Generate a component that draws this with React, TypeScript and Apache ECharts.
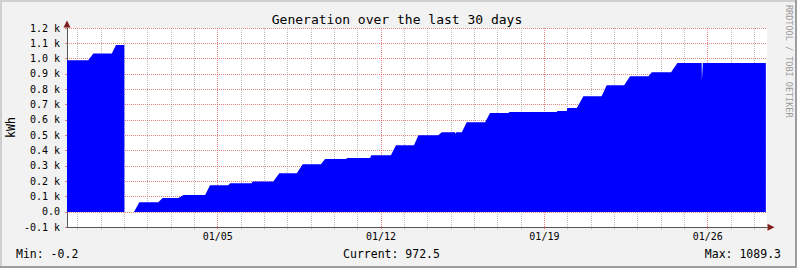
import React, { useEffect, useRef } from "react";
import * as echarts from "echarts";

const titleText = "Generation over the last 30 days";
const unitLabel = "kWh";
const watermarkText = "RRDTOOL / TOBI OETIKER";

// x axis in "day of January" (01/05 00:00 = 5)
const dayMin = -1.46;
const dayMax = 28.54;
const minorDays = [-1, 0, 1, 2, 3, 4, 6, 7, 8, 9, 10, 11, 13, 14, 15, 16, 17, 18, 20, 21, 22, 23, 24, 25, 27, 28];
const majorDays = [5, 12, 19, 26];

const yMin = -100;
const yMax = 1200;
const yStep = 100;

const sampleDays = [
  -1.46, -0.55, -0.33, 0.46, 0.64, 0.997, 1.0, 1.41, 1.64, 2.45, 2.64, 3.31, 3.54, 4.46, 4.67,
  5.45, 5.53, 6.45, 6.5, 7.38, 7.64, 8.39, 8.64, 9.42, 9.6, 10.5, 10.55, 11.53, 11.58,
  12.42, 12.64, 13.41, 13.6, 14.45, 14.6, 15.17, 15.18, 15.21, 15.22, 15.46, 15.67,
  16.46, 16.67, 17.46, 17.5, 19.53, 19.55, 19.96, 19.98, 20.39, 20.67, 21.45, 21.67,
  22.42, 22.67, 23.46, 23.6, 24.43, 24.7, 25.74, 25.75, 25.78, 25.79, 28.49,
];
const sampleKwh = [
  990, 990, 1033, 1033, 1089, 1089, 0, 0, 63, 63, 91, 91, 110, 110, 174,
  174, 187, 187, 198, 198, 252, 252, 311, 311, 345, 345, 352, 352, 370,
  370, 435, 435, 500, 500, 520, 520, 508, 508, 520, 520, 585,
  585, 646, 646, 652, 652, 659, 659, 678, 678, 755, 755, 826,
  826, 885, 885, 911, 911, 972, 972, 859, 859, 972, 972.5,
];

const statMin = "-0.2";
const statCurrent = "972.5";
const statMax = "1089.3";

const MONO = "DejaVu Sans Mono";
const GRID_COLOR = "rgba(143,143,143,0.6)";
const MGRID_COLOR = "rgba(222,79,79,0.7)";
const ARROW_COLOR = "#801f1f";
const AXIS_COLOR = "#555555";

export default function App() {
  const ref = useRef<HTMLDivElement>(null);

  useEffect(() => {
    if (!ref.current) return;
    const chart = echarts.init(ref.current, undefined, { renderer: "svg" });
    const data = sampleDays.map((d, i) => [d, sampleKwh[i]]);
    const yFmt = (v: number) => (v === 0 ? "0.0" : (v / 1000).toFixed(1) + " k");
    const xFmt = (v: number) => "01/" + String(Math.round(v)).padStart(2, "0");

    chart.setOption({
      animation: false,
      backgroundColor: "#f2f2f2",
      grid: {
        left: 67,
        right: 30,
        top: 28,
        bottom: 40.7,
        show: true,
        backgroundColor: "#ffffff",
        borderWidth: 0,
      },
      xAxis: [
        {
          type: "value",
          min: dayMin,
          max: dayMax,
          position: "bottom",
          axisLine: { show: true, onZero: false, lineStyle: { color: AXIS_COLOR, width: 1 } },
          axisTick: { show: true, customValues: minorDays, length: 2, lineStyle: { color: GRID_COLOR } },
          axisLabel: { show: false },
          splitLine: { show: true, lineStyle: { color: GRID_COLOR, type: [1, 1], width: 1 } },
        },
        {
          type: "value",
          min: dayMin,
          max: dayMax,
          position: "bottom",
          axisLine: { show: false, onZero: false },
          axisTick: { show: true, customValues: majorDays, length: 2, lineStyle: { color: MGRID_COLOR } },
          axisLabel: {
            show: true,
            customValues: majorDays,
            formatter: xFmt,
            margin: 4,
            fontFamily: MONO,
            fontSize: 10,
            color: "#000",
          },
          splitLine: { show: true, lineStyle: { color: MGRID_COLOR, type: [1, 1], width: 1 } },
        },
      ],
      yAxis: {
        type: "value",
        min: yMin,
        max: yMax,
        interval: yStep,
        axisLine: { show: true, onZero: false, lineStyle: { color: AXIS_COLOR, width: 1 } },
        axisTick: { show: true, length: 2, lineStyle: { color: MGRID_COLOR } },
        axisLabel: {
          formatter: yFmt,
          margin: 7,
          fontFamily: MONO,
          fontSize: 10,
          color: "#000",
        },
        splitLine: { show: true, lineStyle: { color: MGRID_COLOR, type: [1, 1], width: 1 } },
      },
      series: [
        {
          type: "line",
          xAxisIndex: 0,
          yAxisIndex: 0,
          data,
          showSymbol: false,
          symbol: "none",
          lineStyle: { width: 0, color: "#0000ff" },
          areaStyle: { color: "#0000ff", opacity: 1 },
          silent: true,
          z: 3,
        },
      ],
      graphic: [
        { type: "rect", shape: { x: 0, y: 0, width: 797, height: 2 }, style: { fill: "#cfcfcf" }, silent: true },
        { type: "rect", shape: { x: 0, y: 0, width: 2, height: 268 }, style: { fill: "#cfcfcf" }, silent: true },
        { type: "rect", shape: { x: 0, y: 266, width: 797, height: 2 }, style: { fill: "#9e9e9e" }, silent: true },
        { type: "rect", shape: { x: 795, y: 0, width: 2, height: 268 }, style: { fill: "#9e9e9e" }, silent: true },
        {
          type: "text",
          x: 397,
          y: 19,
          style: { text: titleText, font: `13px '${MONO}'`, fill: "#000", align: "center", verticalAlign: "middle" },
          silent: true,
        },
        {
          type: "text",
          x: 11,
          y: 127.5,
          rotation: Math.PI / 2,
          style: { text: unitLabel, font: `11.5px '${MONO}'`, fill: "#000", align: "center", verticalAlign: "middle" },
          silent: true,
        },
        {
          type: "text",
          x: 789,
          y: 5,
          rotation: -Math.PI / 2,
          style: { text: watermarkText, font: `8.5px '${MONO}'`, fill: "#9a9a9a", align: "left", verticalAlign: "middle" },
          silent: true,
        },
        {
          type: "text",
          x: 16,
          y: 254,
          style: { text: "Min: " + statMin, font: `11.5px '${MONO}'`, fill: "#000", align: "left", verticalAlign: "middle" },
          silent: true,
        },
        {
          type: "text",
          x: 391.5,
          y: 254,
          style: { text: "Current: " + statCurrent, font: `11.5px '${MONO}'`, fill: "#000", align: "center", verticalAlign: "middle" },
          silent: true,
        },
        {
          type: "text",
          x: 781,
          y: 254,
          style: { text: "Max: " + statMax, font: `11.5px '${MONO}'`, fill: "#000", align: "right", verticalAlign: "middle" },
          silent: true,
        },
        {
          type: "polygon",
          shape: { points: [[67, 20.5], [70.5, 27.5], [63.5, 27.5]] },
          style: { fill: ARROW_COLOR },
          silent: true,
        },
        {
          type: "polygon",
          shape: { points: [[774.5, 227.3], [767.5, 223.8], [767.5, 230.8]] },
          style: { fill: ARROW_COLOR },
          silent: true,
        },
      ],
    });

    return () => chart.dispose();
  }, []);

  return (
    <div
      ref={ref}
      style={{ position: "absolute", left: 0, top: 0, width: 797, height: 268 }}
    />
  );
}
